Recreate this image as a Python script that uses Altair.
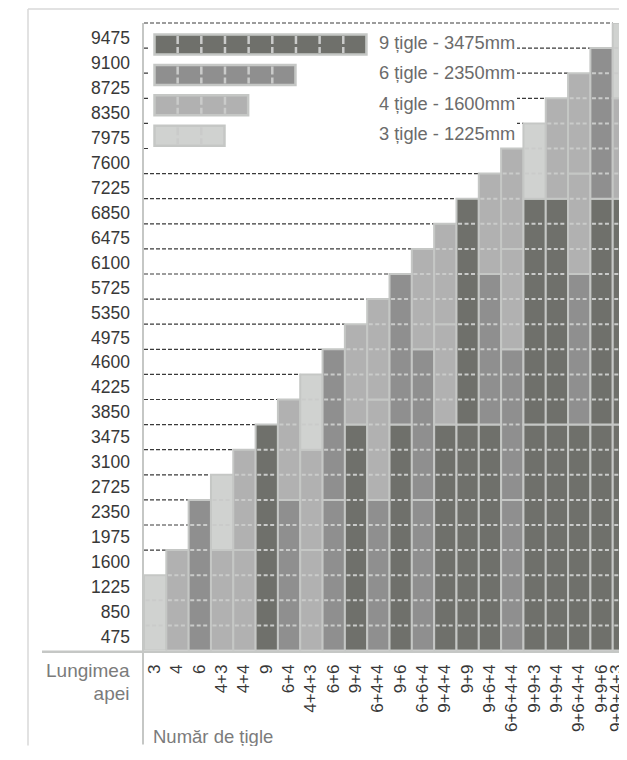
import altair as alt
import pandas as pd

# ---------------- data ----------------
col_labels = ["3", "4", "6", "4+3", "4+4", "9", "6+4", "4+4+3", "6+6", "9+4",
              "6+4+4", "9+6", "6+6+4", "9+4+4", "9+9", "9+6+4", "6+6+4+4",
              "9+9+3", "9+9+4", "9+6+4+4", "9+9+6", "9+9+4+3"]
tile_sizes = [9, 6, 4, 3]
tile_lengths_mm = [3475, 2350, 1600, 1225]
tile_colors = ["#6f706b", "#8f8f8f", "#b1b1b1", "#d0d2d0"]
y_tick_labels = ["475", "850", "1225", "1600", "1975", "2350", "2725", "3100",
                 "3475", "3850", "4225", "4600", "4975", "5350", "5725", "6100",
                 "6475", "6850", "7225", "7600", "7975", "8350", "8725", "9100",
                 "9475"]
legend_texts = [f"{n} țigle - {mm}mm" for n, mm in zip(tile_sizes, tile_lengths_mm)]
y_title_lines = ["Lungimea", "apei"]
x_title = "Număr de țigle"

# ---------------- geometry ----------------
W = 475.0
H = 627.5
ROWS = len(y_tick_labels)
COLW = 22.32
ROWH = H / ROWS
XMAX = W / COLW
FONT = "Liberation Sans"
PAD_B = 95

def dx(px):
    return px / COLW

def dy(py):
    return ROWS - py / ROWH

# segments
seg_rows, dash_rows, heights = [], [], []
for i, lab in enumerate(col_labels):
    cum = 0
    for part in lab.split("+"):
        n = int(part)
        seg_rows.append(dict(x0=i, x1=i + 1, y0=cum, y1=cum + n, tile=n))
        for j in range(cum + 1, cum + n):
            dash_rows.append(dict(x0=i + 0.07, x1=i + 0.93, y=j))
        cum += n
    heights.append(cum)
seg = pd.DataFrame(seg_rows)
dashes = pd.DataFrame(dash_rows)

guide_rows = []
for k in range(1, ROWS + 1):
    end = next(i for i, h in enumerate(heights) if h >= k)
    if end > 0:
        guide_rows.append(dict(x0=0, x1=end, y=k))
guides = pd.DataFrame(guide_rows)

ylab = pd.DataFrame(dict(y=[k + 0.5 for k in range(ROWS)], t=y_tick_labels))
# the last (cut-off) column label is nudged so that part of it stays visible, as in the original
xlab = pd.DataFrame(dict(x=[min(i + 0.5, XMAX - 0.09) for i in range(len(col_labels))], t=col_labels))

xs = alt.Scale(domain=[0, XMAX], nice=False, zero=False)
ys = alt.Scale(domain=[0, ROWS], nice=False, zero=False)

def X(f):
    return alt.X(f, type="quantitative", scale=xs, axis=None)

def Y(f):
    return alt.Y(f, type="quantitative", scale=ys, axis=None)

# legend data (in data units)
leg_box = pd.DataFrame([dict(x0=dx(4), x1=dx(373), y0=dy(5), y1=dy(137))])
leg_rows, leg_div, leg_txt = [], [], []
for i, n in enumerate(tile_sizes):
    top = 11.5 + 30.4 * i
    leg_rows.append(dict(x0=dx(10.5), x1=dx(10.5 + n * 23.66 - 1), y0=dy(top), y1=dy(top + 20), tile=n))
    for k in range(1, n):
        leg_div.append(dict(x=dx(10.5 + 23.66 * k - 0.5), y0=dy(top + 1.5), y1=dy(top + 18.5)))
    leg_txt.append(dict(x=dx(235), y=dy(top + 9.5), t=legend_texts[i]))
leg_rows = pd.DataFrame(leg_rows)
leg_div = pd.DataFrame(leg_div)
leg_txt = pd.DataFrame(leg_txt)

color = alt.Color("tile:O", scale=alt.Scale(domain=tile_sizes, range=tile_colors), legend=None)

# ---------------- layers ----------------
guide_layer = alt.Chart(guides).mark_rule(color="#3a3a3a", strokeWidth=1.2, strokeDash=[4, 2]).encode(
    x=X("x0"), x2="x1", y=Y("y"))

box_layer = alt.Chart(leg_box).mark_rect(fill="white").encode(
    x=X("x0"), x2="x1", y=Y("y0"), y2="y1")

bar_layer = alt.Chart(seg).mark_rect(stroke="#c5c7c5", strokeWidth=2, clip=True).encode(
    x=X("x0"), x2="x1", y=Y("y0"), y2="y1", fill=color)

dash_layer = alt.Chart(dashes).mark_rule(color="#cacbca", strokeWidth=2, strokeDash=[4, 2.5], clip=True).encode(
    x=X("x0"), x2="x1", y=Y("y"))

leg_bar_layer = alt.Chart(leg_rows).mark_rect(stroke="#c5c7c5", strokeWidth=2.5).encode(
    x=X("x0"), x2="x1", y=Y("y0"), y2="y1", fill=color)

leg_div_layer = alt.Chart(leg_div).mark_rule(color="#cacbca", strokeWidth=2.5, strokeDash=[8, 3]).encode(
    x=X("x"), y=Y("y0"), y2="y1")

leg_txt_layer = alt.Chart(leg_txt).mark_text(align="left", baseline="middle", font=FONT,
                                             fontSize=18.3, color="#6b6b6b").encode(
    x=X("x"), y=Y("y"), text="t")

# tick labels sit on a slightly tighter spacing than the rows in the original
ylab_layer = alt.Chart(ylab).mark_text(align="right", baseline="middle", font=FONT,
                                       fontSize=17.5, color="#383838").encode(
    x=alt.value(-14),
    y=alt.Y("y:Q", scale=alt.Scale(domain=[0.5, ROWS - 0.5], range=[614.8, 16.2], nice=False, zero=False), axis=None),
    text="t")

xlab_layer = alt.Chart(xlab).mark_text(align="right", baseline="middle", angle=270, font=FONT,
                                       fontSize=17, color="#383838").encode(
    x=X("x"), y=alt.value(H + 14), text="t")

ytitle = alt.Chart(pd.DataFrame(dict(t=y_title_lines, yy=[0, 1]))).mark_text(
    align="right", baseline="alphabetic", font=FONT, fontSize=19, color="#7b7b7b").encode(
    x=alt.value(-14.5),
    y=alt.Y("yy:Q", scale=alt.Scale(domain=[0, 1], range=[H + 26.5, H + 49.5]), axis=None),
    text="t")

xtitle = alt.Chart(pd.DataFrame(dict(t=[x_title]))).mark_text(
    align="left", baseline="alphabetic", font=FONT, fontSize=18.5, color="#7b7b7b").encode(
    x=alt.value(9), y=alt.value(H + 92), text="t")

vline = alt.Chart(pd.DataFrame(dict(a=[0]))).mark_rule(color="#c5c7c5", strokeWidth=2).encode(
    x=alt.value(-1), y=alt.value(0), y2=alt.value(H + 94))
hline = alt.Chart(pd.DataFrame(dict(a=[0]))).mark_rule(color="#c5c7c5", strokeWidth=2.5).encode(
    x=alt.value(-102), x2=alt.value(W), y=alt.value(H + 1.2))
frame_l = alt.Chart(pd.DataFrame(dict(a=[0]))).mark_rule(color="#d8d8d8", strokeWidth=1.5).encode(
    x=alt.value(-116), y=alt.value(-14), y2=alt.value(H + PAD_B))
frame_t = alt.Chart(pd.DataFrame(dict(a=[0]))).mark_rule(color="#d8d8d8", strokeWidth=1.5).encode(
    x=alt.value(-116), x2=alt.value(W), y=alt.value(-14))

chart = alt.layer(
    guide_layer, box_layer, bar_layer, dash_layer, leg_bar_layer, leg_div_layer,
    leg_txt_layer, ylab_layer, xlab_layer, ytitle, xtitle, vline, hline, frame_l, frame_t
).resolve_scale(y="independent").properties(
    width=W, height=H,
    autosize=alt.AutoSizeParams(type="none"),
    padding={"left": 136, "top": 15, "right": 0, "bottom": PAD_B},
    background="white",
).configure_view(stroke=None)

chart.save("out.html", embed_options={"renderer": "svg", "actions": False})
